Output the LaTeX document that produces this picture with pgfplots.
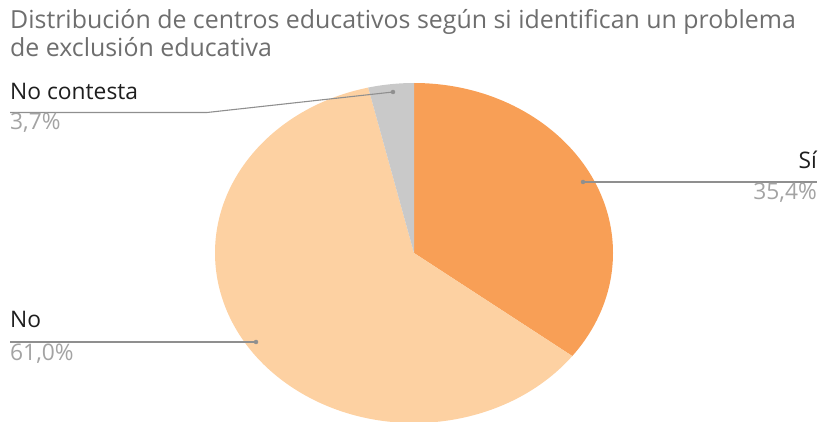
\documentclass[border=0pt]{standalone}
\usepackage{pgfplots}
\usepackage{pgfplotstable}
\pgfplotsset{compat=1.18}
\usepackage{fontspec}
\setmainfont{Open Sans}
\definecolor{siC}{HTML}{F89F56}
\definecolor{noC}{HTML}{FDD1A2}
\definecolor{ncC}{HTML}{C9C9C9}
\definecolor{titleC}{HTML}{6E6E6E}
\definecolor{pctC}{HTML}{A3A3A3}
\definecolor{lblC}{HTML}{1E1E1E}
\definecolor{leadC}{HTML}{8F8F8F}
\pgfplotstableread{
label value
Si 35.4
No 61.0
NC 3.7
}\piedata
\pgfplotstablegetelem{0}{value}\of\piedata \let\vSi\pgfplotsretval
\pgfplotstablegetelem{1}{value}\of\piedata \let\vNo\pgfplotsretval
\pgfplotstablegetelem{2}{value}\of\piedata \let\vNC\pgfplotsretval
\pgfmathsetmacro{\tot}{\vSi+\vNo+\vNC}
\pgfmathsetmacro{\aA}{90}
\pgfmathsetmacro{\aB}{90-360*(\vSi/\tot)}
\pgfmathsetmacro{\aC}{\aB-360*(\vNo/\tot)}
\pgfmathsetmacro{\aD}{-270}
\begin{document}%
\begin{tikzpicture}[x=1pt,y=1pt]
\useasboundingbox (0,0) rectangle (823,421);
\begin{axis}[
  at={(0,0)}, anchor=south west,
  width=823pt, height=421pt, scale only axis,
  xmin=0, xmax=823, ymin=0, ymax=421,
  hide axis, clip=true,
]
% pie slices (center 414,168; radii 199 x 170)
\fill[siC] (axis cs:414,168) -- ++(\aA:199pt and 170pt) arc[start angle=\aA, end angle=\aB, x radius=199pt, y radius=170pt] -- cycle;
\fill[noC] (axis cs:414,168) -- ++(\aB:199pt and 170pt) arc[start angle=\aB, end angle=\aC, x radius=199pt, y radius=170pt] -- cycle;
\fill[ncC] (axis cs:414,168) -- ++(\aC:199pt and 170pt) arc[start angle=\aC, end angle=\aD, x radius=199pt, y radius=170pt] -- cycle;
% leader lines
\addplot[leadC, line width=1.1pt, mark=none] coordinates {(10,308.5) (207,308.5) (393,329)};
\addplot[leadC, only marks, mark=*, mark size=2pt] coordinates {(393,329)};
\addplot[leadC, line width=1.1pt, mark=none] coordinates {(583,239) (817,239)};
\addplot[leadC, only marks, mark=*, mark size=2pt] coordinates {(583,239)};
\addplot[leadC, line width=1.1pt, mark=none] coordinates {(10,79) (256,79)};
\addplot[leadC, only marks, mark=*, mark size=2pt] coordinates {(256,79)};
\end{axis}
% labels
\node[anchor=base west, inner sep=0, text=titleC, font=\fontsize{24.9}{28}\selectfont] at (10,392) {Distribución de centros educativos según si identifican un problema};
\node[anchor=base west, inner sep=0, text=titleC, font=\fontsize{24.9}{28}\selectfont] at (10,364) {de exclusión educativa};
\node[anchor=base west, inner sep=0, text=lblC, font=\fontsize{22.8}{26}\selectfont] at (10,321) {No contesta};
\node[anchor=base west, inner sep=0, text=pctC, font=\fontsize{22.8}{26}\selectfont] at (10,291) {3,7\%};
\node[anchor=base east, inner sep=0, text=lblC, font=\fontsize{22.8}{26}\selectfont] at (817,252) {Sí};
\node[anchor=base east, inner sep=0, text=pctC, font=\fontsize{22.8}{26}\selectfont] at (817,221) {35,4\%};
\node[anchor=base west, inner sep=0, text=lblC, font=\fontsize{22.8}{26}\selectfont] at (10,93) {No};
\node[anchor=base west, inner sep=0, text=pctC, font=\fontsize{22.8}{26}\selectfont] at (10,60) {61,0\%};
\end{tikzpicture}%
\end{document}
